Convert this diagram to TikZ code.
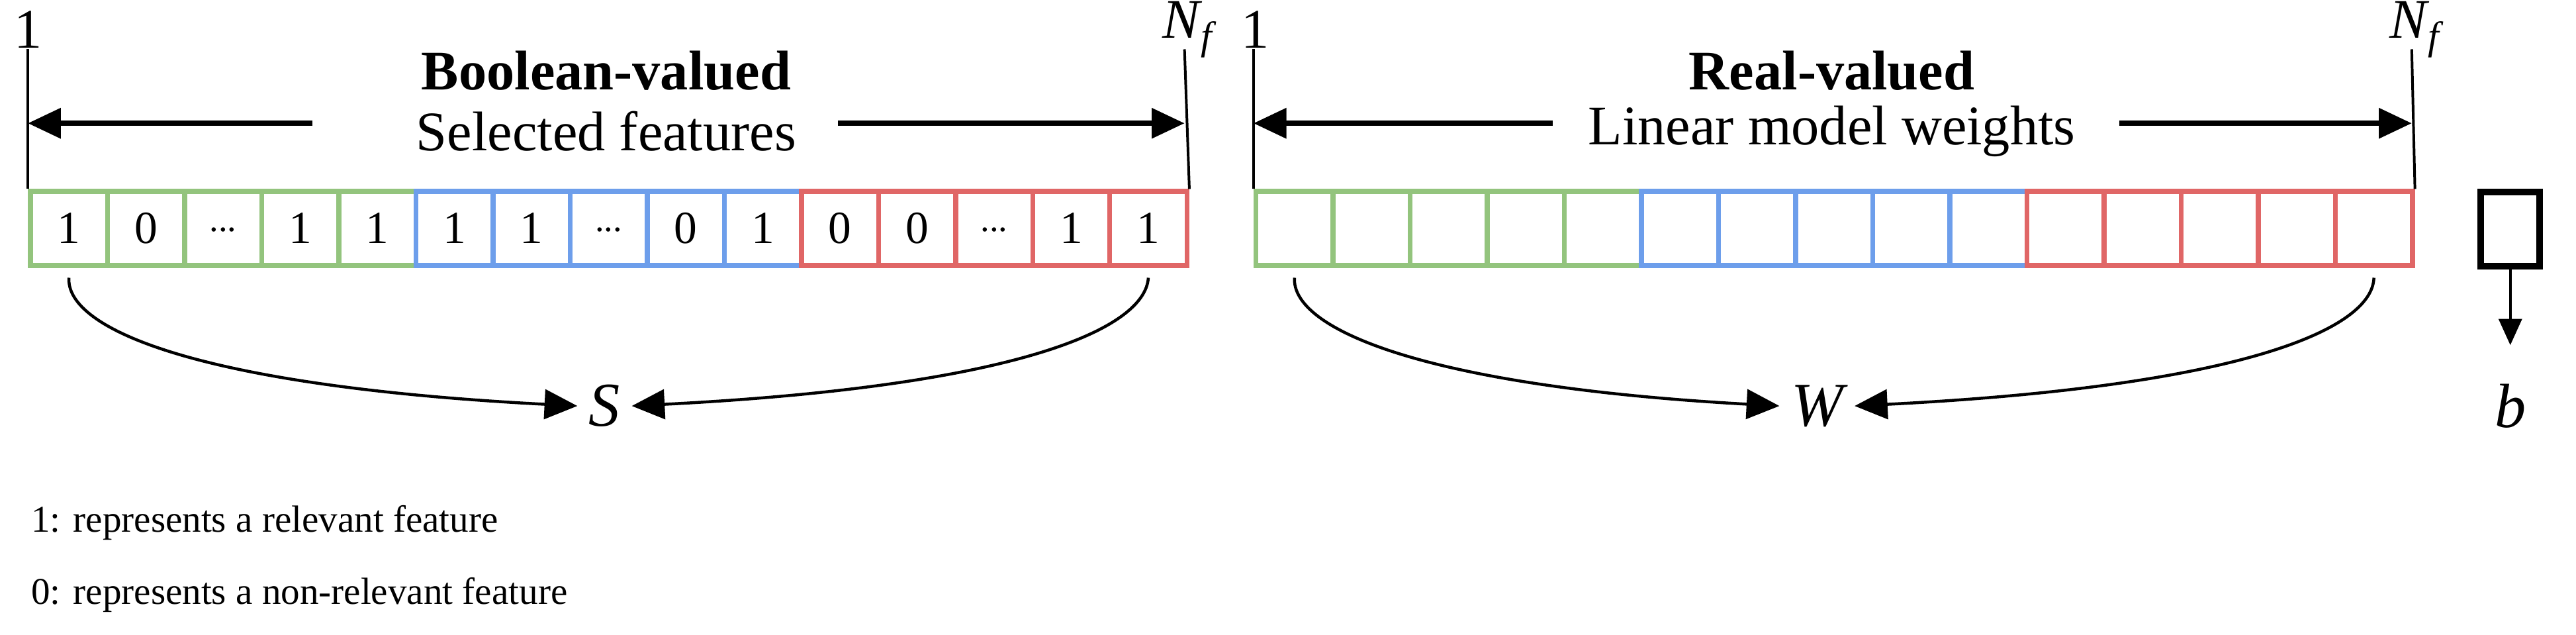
\documentclass[tikz,border=0pt]{standalone}
\usepackage{fontspec}
\setmainfont{Liberation Serif}
\usetikzlibrary{arrows.meta}
\definecolor{cg}{HTML}{93C47D}
\definecolor{cb}{HTML}{6D9EEB}
\definecolor{cr}{HTML}{E06666}
\newcommand{\dd}{\raisebox{-0.3ex}{\fontsize{11}{11}\selectfont...}}
\newcommand{\Nf}{\textit{N}\kern-0.5pt\raisebox{-0.45ex}{\fontsize{12}{12}\selectfont\textit{f}}}
\tikzset{
  cell/.style={draw=#1,line width=1.5pt,minimum width=23.46pt,minimum height=22.5pt,inner sep=0pt,anchor=north west,font=\fontsize{14}{14}\selectfont},
  tip/.style={-{Triangle[length=10pt,width=9pt]}},
  lbl/.style={font=\fontsize{17}{17}\selectfont},
  var/.style={font=\itshape\fontsize{19}{19}\selectfont},
}
\begin{document}
\begin{tikzpicture}[x=0.5pt,y=-0.5pt]
\useasboundingbox (0,0) rectangle (1568,386);
\def\cw{46.93}
\foreach \v [count=\i from 0] in {1,0,\dd,1,1,1,1,\dd,0,1,0,0,\dd,1,1}{
  \pgfmathtruncatemacro\c{\i<5?1:(\i<10?2:3)}
  \ifnum\c=1 \def\cc{cg}\fi \ifnum\c=2 \def\cc{cb}\fi \ifnum\c=3 \def\cc{cr}\fi
  \node[cell=\cc] (L\i) at ({17+\i*\cw},115) {\v};
}
\foreach \i in {0,...,14}{
  \pgfmathtruncatemacro\c{\i<5?1:(\i<10?2:3)}
  \ifnum\c=1 \def\cc{cg}\fi \ifnum\c=2 \def\cc{cb}\fi \ifnum\c=3 \def\cc{cr}\fi
  \node[cell=\cc] (R\i) at ({763+\i*\cw},115) {};
}
\node[draw,line width=2pt,minimum width=18pt,minimum height=22.5pt,anchor=north] (B) at (1528,115) {};
\coordinate (la) at (17,30); \coordinate (lb) at (721,30);
\coordinate (ra) at (763,30); \coordinate (rb) at (1468,30);
\draw[line width=0.8pt] (la) -- (L0.north west);
\draw[line width=0.8pt] (lb) -- (L14.north east);
\draw[line width=0.8pt] (ra) -- (R0.north west);
\draw[line width=0.8pt] (rb) -- (R14.north east);
\node[lbl] (one1) at (17,18) {1};
\node[lbl] (nf1) at (724,18) {\Nf};
\node[lbl] (one2) at (764,18) {1};
\node[lbl] (nf2) at (1471,18) {\Nf};
\node[lbl,font=\bfseries\fontsize{17}{17}\selectfont] (t1) at (369,43) {Boolean-valued};
\node[lbl] (s1) at (369,80) {Selected features};
\node[lbl,font=\bfseries\fontsize{17}{17}\selectfont] (t2) at (1115,43) {Real-valued};
\node[lbl] (s2) at (1115,80) {Linear model weights};
\coordinate (a1) at (17,75); \coordinate (a2) at (190,75);
\coordinate (a3) at (510,75); \coordinate (a4) at (721,75);
\draw[tip,line width=1.5pt] (a2) -- (a1);
\draw[tip,line width=1.5pt] (a3) -- (a4);
\coordinate (b1) at (763,75); \coordinate (b2) at (945,75);
\coordinate (b3) at (1290,75); \coordinate (b4) at (1468,75);
\draw[tip,line width=1.5pt] (b2) -- (b1);
\draw[tip,line width=1.5pt] (b3) -- (b4);
\node[var] (S) at (368,247) {S};
\node[var] (W) at (1106,247) {W};
\node[var] (b) at (1528,247) {b};
\coordinate (bt) at (1528,210);
\draw[tip,line width=0.9pt] ([yshift=-3pt]L0.south) .. controls (40,200) and (120,235) .. (S.west);
\draw[tip,line width=0.9pt] ([yshift=-3pt]L14.south) .. controls (697,200) and (620,235) .. (S.east);
\draw[tip,line width=0.9pt] ([yshift=-3pt]R0.south) .. controls (786,200) and (866,235) .. (W.west);
\draw[tip,line width=0.9pt] ([yshift=-3pt]R14.south) .. controls (1444,200) and (1366,235) .. (W.east);
\draw[-{Triangle[length=8pt,width=7pt]},line width=0.9pt] (B.south) -- (bt);
\node[anchor=west,font=\fontsize{11.5}{11.5}\selectfont] (g1) at (12,318) {1: represents a relevant feature};
\node[anchor=west,font=\fontsize{11.5}{11.5}\selectfont] (g2) at (12,362) {0: represents a non-relevant feature};
\end{tikzpicture}
\end{document}
